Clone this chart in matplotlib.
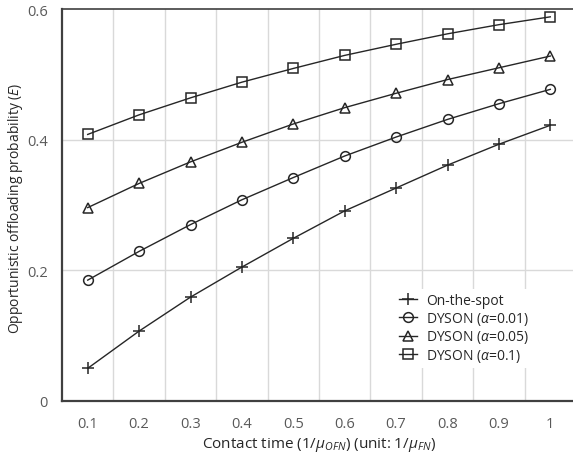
import matplotlib as mpl
mpl.use('Agg')
import matplotlib.pyplot as plt
import numpy as np

plt.rcParams['font.family'] = ['Open Sans', 'DejaVu Sans']
plt.rcParams['mathtext.fontset'] = 'custom'
plt.rcParams['mathtext.rm'] = 'Open Sans'
plt.rcParams['mathtext.it'] = 'Open Sans:italic'

categories = ['0.1', '0.2', '0.3', '0.4', '0.5', '0.6', '0.7', '0.8', '0.9', '1']
on_the_spot = [0.050, 0.107, 0.159, 0.205, 0.249, 0.291, 0.326, 0.361, 0.393, 0.422]
dyson_001 = [0.185, 0.229, 0.270, 0.308, 0.342, 0.375, 0.404, 0.431, 0.455, 0.477]
dyson_005 = [0.296, 0.333, 0.366, 0.396, 0.424, 0.449, 0.471, 0.492, 0.510, 0.528]
dyson_01 = [0.408, 0.438, 0.464, 0.488, 0.509, 0.529, 0.546, 0.562, 0.576, 0.588]
yticks = [0, 0.2, 0.4, 0.6]
ytick_labels = ['0', '0.2', '0.4', '0.6']

W, H = 573, 460
fig = plt.figure(figsize=(W / 100, H / 100), dpi=100)
ax = fig.add_axes([62 / W, 58 / H, 514 / W, 392 / H])

x = np.arange(len(categories))
lc = '#262626'
series = [
    (on_the_spot, '+', 9, 'On-the-spot'),
    (dyson_001, 'o', 7, r'DYSON ($\alpha$=0.01)'),
    (dyson_005, '^', 7, r'DYSON ($\alpha$=0.05)'),
    (dyson_01, 's', 6.5, r'DYSON ($\alpha$=0.1)'),
]
for vals, mk, ms, lab in series:
    ax.plot(x, vals, color=lc, lw=1.0, marker=mk, ms=ms, mfc='none',
            mec=lc, mew=1.1, label=lab, zorder=3)

ax.set_xlim(-0.5, len(categories) - 0.5)
ax.set_ylim(0, 0.6)
ax.set_xticks(x)
ax.set_xticklabels(categories)
ax.set_yticks(yticks)
ax.set_yticklabels(ytick_labels)
ax.tick_params(length=0, labelsize=10.5, labelcolor='#595959')
ax.tick_params(axis='x', pad=11)
ax.tick_params(axis='y', pad=10)

for b in np.arange(0.5, len(categories) - 1, 1.0):
    ax.axvline(b, color='#d9d9d9', lw=1.0, zorder=0)
for t in yticks[1:-1]:
    ax.axhline(t, color='#d9d9d9', lw=1.0, zorder=0)

for s in ['left', 'bottom']:
    ax.spines[s].set_color('#404040')
    ax.spines[s].set_linewidth(1.6)
ax.spines['top'].set_color('#404040')
ax.spines['top'].set_linewidth(1.2)
ax.spines['right'].set_visible(False)

ax.set_xlabel(r'Contact time (1/$\mu_{OFN}$) (unit: 1/$\mu_{FN}$)',
              fontsize=11, color='#262626', labelpad=3)
ax.set_ylabel(r'Opportunistic offloading probability ($E$)',
              fontsize=10, color='#262626')
ax.yaxis.set_label_coords(-0.072, 0.495)

leg = ax.legend(loc='upper left', bbox_to_anchor=(0.647, 0.286), frameon=True,
                fontsize=10, handlelength=1.35, handletextpad=0.6,
                labelspacing=0.12, borderpad=0.3, borderaxespad=0)
leg.get_frame().set_edgecolor('none')
leg.get_frame().set_facecolor('white')
leg.get_frame().set_alpha(1.0)
for t in leg.get_texts():
    t.set_color('#262626')

fig.savefig('out.png', dpi=100)
